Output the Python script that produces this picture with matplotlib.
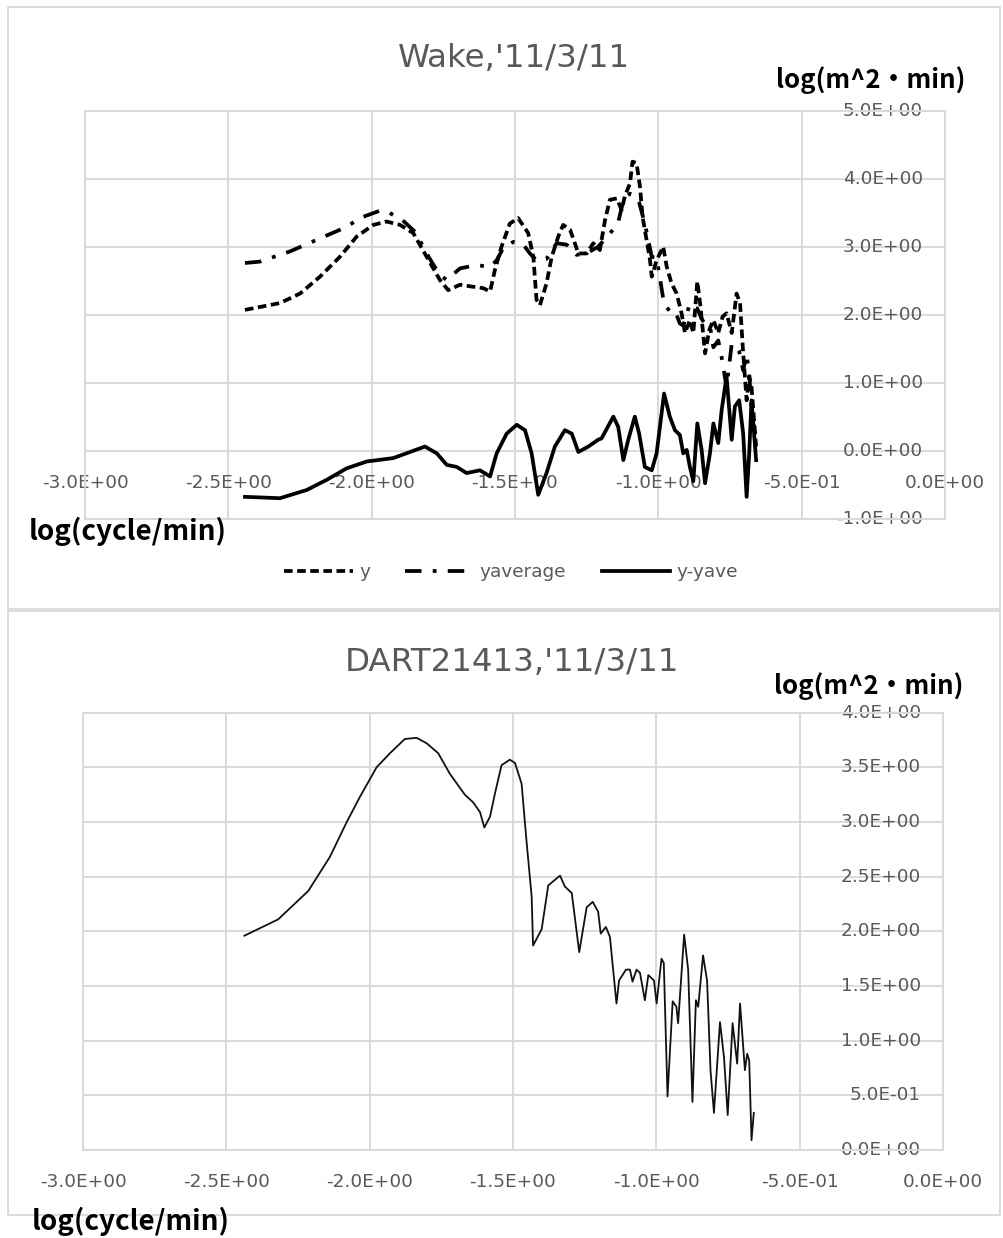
import matplotlib
matplotlib.use("Agg")
import matplotlib.pyplot as plt
from matplotlib.lines import Line2D
from matplotlib.patches import Rectangle
from matplotlib.transforms import offset_copy

# ---------------- Wake, '11/3/11 ----------------
wake_title = "Wake,'11/3/11"

wake_y_x = [-2.442, -2.320, -2.250, -2.180, -2.111, -2.052, -1.994, -1.948, -1.901, -1.855,
            -1.808, -1.762, -1.733, -1.692, -1.646, -1.611, -1.587, -1.570, -1.547, -1.518,
            -1.489, -1.454, -1.436, -1.425, -1.413, -1.390, -1.372, -1.349, -1.332, -1.308,
            -1.297, -1.279, -1.250, -1.227, -1.204, -1.186, -1.169, -1.145, -1.128, -1.117,
            -1.099, -1.090, -1.076, -1.064, -1.055, -1.041, -1.029, -1.023, -1.006, -0.983,
            -0.971, -0.954, -0.936, -0.919, -0.907, -0.890, -0.878, -0.864, -0.853, -0.837,
            -0.822, -0.808, -0.791, -0.776, -0.762, -0.744, -0.727, -0.715, -0.704, -0.692,
            -0.683, -0.675, -0.666, -0.659]
wake_y = [2.07, 2.17, 2.31, 2.56, 2.85, 3.15, 3.32, 3.37, 3.32, 3.20,
          2.85, 2.51, 2.36, 2.44, 2.41, 2.39, 2.34, 2.66, 3.00, 3.34,
          3.42, 3.20, 2.85, 2.22, 2.14, 2.46, 2.85, 3.15, 3.32, 3.25,
          3.12, 2.90, 2.90, 3.05, 2.95, 3.39, 3.69, 3.71, 3.54, 3.74,
          3.93, 4.25, 4.23, 3.88, 3.44, 3.10, 2.80, 2.56, 2.80, 3.00,
          2.71, 2.46, 2.31, 2.02, 1.73, 1.92, 1.73, 2.49, 2.12, 1.43,
          1.78, 1.92, 1.73, 1.97, 2.02, 1.73, 2.31, 2.17, 1.43, 0.74,
          1.09, 0.94, 0.45, 0.06]

wake_yave_x = [-2.442, -2.390, -2.285, -2.192, -2.099, -2.029, -1.971, -1.948, -1.895, -1.849,
               -1.797, -1.762, -1.738, -1.692, -1.634, -1.587, -1.564, -1.541, -1.506, -1.471,
               -1.448, -1.425, -1.390, -1.355, -1.320, -1.285, -1.250, -1.210, -1.169, -1.140,
               -1.122, -1.099, -1.082, -1.067, -1.047, -1.023, -1.006, -0.980, -0.960, -0.942,
               -0.925, -0.913, -0.890, -0.878, -0.864, -0.849, -0.837, -0.820, -0.808, -0.791,
               -0.779, -0.762, -0.744, -0.733, -0.718, -0.704, -0.692, -0.683, -0.675, -0.666,
               -0.659]
wake_yave = [2.76, 2.78, 2.93, 3.10, 3.27, 3.44, 3.53, 3.52, 3.40, 3.22,
             2.82, 2.58, 2.51, 2.68, 2.73, 2.70, 2.80, 2.98, 3.07, 3.03,
             2.90, 2.80, 2.82, 3.05, 3.03, 2.88, 2.90, 3.00, 3.19, 3.36,
             3.68, 3.78, 3.75, 3.65, 3.34, 2.85, 2.84, 2.16, 2.05, 2.06,
             1.87, 1.84, 2.16, 2.11, 2.09, 1.94, 1.86, 1.84, 1.52, 1.62,
             1.37, 0.93, 1.57, 1.55, 1.46, 1.18, 1.42, 1.13, 0.60, 0.30,
             0.20]

wake_diff_x = [-2.442, -2.320, -2.227, -2.157, -2.087, -2.017, -1.925, -1.866, -1.814, -1.773,
               -1.738, -1.703, -1.669, -1.622, -1.587, -1.564, -1.529, -1.494, -1.465, -1.442,
               -1.419, -1.390, -1.361, -1.326, -1.302, -1.279, -1.244, -1.210, -1.198, -1.157,
               -1.140, -1.122, -1.105, -1.082, -1.067, -1.047, -1.023, -1.006, -0.980, -0.960,
               -0.942, -0.925, -0.913, -0.901, -0.890, -0.878, -0.864, -0.849, -0.837, -0.820,
               -0.808, -0.791, -0.779, -0.762, -0.744, -0.733, -0.718, -0.704, -0.692, -0.683,
               -0.675, -0.666, -0.659]
wake_diff = [-0.68, -0.70, -0.58, -0.43, -0.26, -0.16, -0.11, -0.02, 0.06, -0.04,
             -0.21, -0.24, -0.33, -0.29, -0.38, -0.04, 0.25, 0.38, 0.30, -0.04,
             -0.65, -0.33, 0.06, 0.30, 0.25, -0.02, 0.06, 0.16, 0.18, 0.50,
             0.35, -0.14, 0.16, 0.50, 0.25, -0.24, -0.29, -0.04, 0.84, 0.50,
             0.30, 0.23, -0.04, 0.01, -0.24, -0.45, 0.40, 0.01, -0.48, -0.04,
             0.40, 0.11, 0.60, 1.09, 0.16, 0.65, 0.74, 0.25, -0.68, -0.04,
             0.74, 0.25, -0.14]

wake_series = ["y", "yaverage", "y-yave"]
wake_xticks = [-3.0, -2.5, -2.0, -1.5, -1.0, -0.5, 0.0]
wake_xticklabels = ["-3.0E+00", "-2.5E+00", "-2.0E+00", "-1.5E+00", "-1.0E+00", "-5.0E-01", "0.0E+00"]
wake_yticks = [-1.0, 0.0, 1.0, 2.0, 3.0, 4.0, 5.0]
wake_yticklabels = ["-1.0E+00", "0.0E+00", "1.0E+00", "2.0E+00", "3.0E+00", "4.0E+00", "5.0E+00"]

# ---------------- DART21413, '11/3/11 ----------------
dart_title = "DART21413,'11/3/11"

dart_x = [-2.437, -2.319, -2.214, -2.139, -2.080, -2.034, -1.976, -1.929, -1.877, -1.836,
          -1.801, -1.761, -1.720, -1.668, -1.639, -1.615, -1.600, -1.580, -1.563, -1.540,
          -1.511, -1.493, -1.470, -1.453, -1.435, -1.430, -1.400, -1.377, -1.336, -1.319,
          -1.295, -1.269, -1.243, -1.222, -1.203, -1.194, -1.176, -1.162, -1.139, -1.130,
          -1.106, -1.092, -1.083, -1.069, -1.057, -1.040, -1.028, -1.008, -0.999, -0.982,
          -0.974, -0.961, -0.943, -0.930, -0.924, -0.903, -0.889, -0.874, -0.862, -0.854,
          -0.837, -0.823, -0.811, -0.799, -0.778, -0.764, -0.751, -0.734, -0.718, -0.708,
          -0.691, -0.683, -0.676, -0.668, -0.660]
dart_y = [1.96, 2.11, 2.37, 2.68, 3.00, 3.23, 3.50, 3.63, 3.76, 3.77,
          3.72, 3.63, 3.44, 3.25, 3.18, 3.09, 2.95, 3.05, 3.26, 3.52,
          3.57, 3.54, 3.35, 2.83, 2.32, 1.87, 2.02, 2.42, 2.51, 2.41,
          2.35, 1.81, 2.22, 2.27, 2.18, 1.98, 2.04, 1.95, 1.34, 1.55,
          1.65, 1.65, 1.54, 1.65, 1.62, 1.37, 1.60, 1.55, 1.34, 1.75,
          1.71, 0.49, 1.36, 1.31, 1.16, 1.97, 1.65, 0.44, 1.37, 1.31,
          1.78, 1.55, 0.73, 0.34, 1.17, 0.85, 0.32, 1.16, 0.79, 1.34,
          0.73, 0.88, 0.82, 0.09, 0.34]

dart_xticks = [-3.0, -2.5, -2.0, -1.5, -1.0, -0.5, 0.0]
dart_xticklabels = ["-3.0E+00", "-2.5E+00", "-2.0E+00", "-1.5E+00", "-1.0E+00", "-5.0E-01", "0.0E+00"]
dart_yticks = [0.0, 0.5, 1.0, 1.5, 2.0, 2.5, 3.0, 3.5, 4.0]
dart_yticklabels = ["0.0E+00", "5.0E-01", "1.0E+00", "1.5E+00", "2.0E+00", "2.5E+00", "3.0E+00", "3.5E+00", "4.0E+00"]

x_title = "log(cycle/min)"
y_title = "log(m^2・min)"

# ---------------- figure ----------------
W, H, DPI = 1004, 1238, 100
GRID = "#d9d9d9"
TXT = "#595959"
TICK_FS = 13.3
CJK = ["Noto Sans CJK JP", "DejaVu Sans"]
XT_FS = 20.0
YT_FS = 18.6

fig = plt.figure(figsize=(W / DPI, H / DPI), dpi=DPI)
fig.patch.set_facecolor("white")


def fx(px):
    return px / W


def fy(py):
    return 1 - py / H


# chart-area frames
for x0, y0, x1, y1 in [(8, 7, 1000, 609), (8, 611, 1000, 1215)]:
    fig.patches.append(Rectangle((fx(x0), fy(y1)), (x1 - x0) / W, (y1 - y0) / H,
                                 transform=fig.transFigure, fill=False,
                                 edgecolor=GRID, lw=1.3, zorder=0))


def make_axes(left, top, right, bottom, xlim, ylim, xticks, xlabels, yticks, ylabels, xaxis_at):
    ax = fig.add_axes([fx(left), fy(bottom), (right - left) / W, (bottom - top) / H])
    ax.set_xlim(*xlim)
    ax.set_ylim(*ylim)
    ax.set_xticks(xticks)
    ax.set_yticks(yticks)
    ax.tick_params(length=0, labelbottom=False, labelleft=False)
    ax.grid(True, color=GRID, lw=1.4)
    ax.set_axisbelow(True)
    for s in ax.spines.values():
        s.set_color(GRID)
        s.set_linewidth(1.4)
    tx = offset_copy(ax.transData, fig=fig, x=0, y=-32, units="dots")
    for v, lab in zip(xticks, xlabels):
        ax.text(v, xaxis_at, lab, transform=tx, ha="center", va="center",
                fontsize=TICK_FS, color=TXT, clip_on=False, zorder=1.5)
    ty = offset_copy(ax.transData, fig=fig, x=-22, y=0, units="dots")
    for v, lab in zip(yticks, ylabels):
        ax.text(xlim[1], v, lab, transform=ty, ha="right", va="center",
                fontsize=TICK_FS, color=TXT, clip_on=False, zorder=1.5)
    return ax


# ---- upper chart ----
ax1 = make_axes(85, 110.7, 945, 518.6, (-3.0, 0.0), (-1.0, 5.0),
                wake_xticks, wake_xticklabels, wake_yticks, wake_yticklabels, 0.0)
LW = 2.7
ls_y = (0, (2.3, 1.2))
ls_ave = (0, (4.4, 3.0, 1.0, 3.0))
ax1.plot(wake_y_x, wake_y, color="black", lw=LW, ls=ls_y, zorder=3)
ax1.plot(wake_yave_x, wake_yave, color="black", lw=LW, ls=ls_ave, zorder=3)
ax1.plot(wake_diff_x, wake_diff, color="black", lw=LW, ls="-", zorder=3)

fig.text(fx(514), fy(67), wake_title, ha="center", va="baseline",
         fontsize=23.4, color=TXT)
fig.text(fx(776), fy(80), y_title, ha="left", va="center",
         fontsize=YT_FS, fontweight="bold", family=CJK, color="black")
fig.text(fx(29), fy(531), x_title, ha="left", va="center",
         fontsize=XT_FS, fontweight="bold", family=CJK, color="black")

handles = [Line2D([], [], color="black", lw=LW, ls=ls_y),
           Line2D([], [], color="black", lw=LW, ls=ls_ave),
           Line2D([], [], color="black", lw=LW, ls="-")]
fig.legend(handles, wake_series, loc="center", bbox_to_anchor=(fx(511), fy(572)),
           ncol=3, frameon=False, handlelength=3.7, handletextpad=0.35,
           columnspacing=1.9, fontsize=TICK_FS, labelcolor=TXT)

# ---- lower chart ----
ax2 = make_axes(83, 712.7, 943, 1150, (-3.0, 0.0), (0.0, 4.0),
                dart_xticks, dart_xticklabels, dart_yticks, dart_yticklabels, 0.0)
ax2.plot(dart_x, dart_y, color="#111111", lw=1.3, zorder=3)

fig.text(fx(512), fy(671), dart_title, ha="center", va="baseline",
         fontsize=23.4, color=TXT)
fig.text(fx(774), fy(686), y_title, ha="left", va="center",
         fontsize=YT_FS, fontweight="bold", family=CJK, color="black")
fig.text(fx(32), fy(1221), x_title, ha="left", va="center",
         fontsize=XT_FS, fontweight="bold", family=CJK, color="black")

fig.savefig("out.png", dpi=DPI, facecolor="white")
